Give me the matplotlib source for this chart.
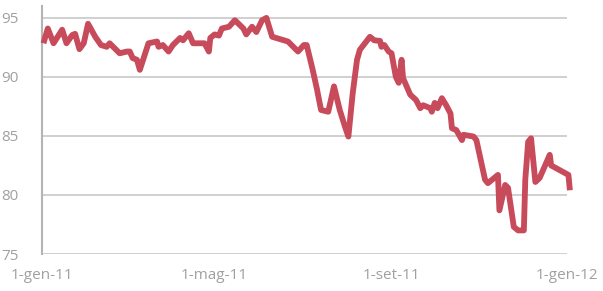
import matplotlib
matplotlib.use("Agg")
import matplotlib.pyplot as plt
import pandas as pd

# ---------------------------
# data (daily index, 2011)
# ---------------------------
dates = [
    "2011-01-02", "2011-01-05", "2011-01-09", "2011-01-15", "2011-01-18", "2011-01-22",
    "2011-01-24", "2011-01-27", "2011-01-30", "2011-02-02", "2011-02-07", "2011-02-11",
    "2011-02-15", "2011-02-17", "2011-02-24", "2011-03-01", "2011-03-03", "2011-03-05",
    "2011-03-08", "2011-03-10", "2011-03-16", "2011-03-22", "2011-03-23", "2011-03-26",
    "2011-03-30", "2011-04-02", "2011-04-07", "2011-04-09", "2011-04-13", "2011-04-16",
    "2011-04-24", "2011-04-27", "2011-04-28", "2011-05-01", "2011-05-04", "2011-05-06",
    "2011-05-11", "2011-05-15", "2011-05-16", "2011-05-21", "2011-05-23", "2011-05-27",
    "2011-05-30", "2011-06-03", "2011-06-06", "2011-06-10", "2011-06-21", "2011-06-28",
    "2011-07-02", "2011-07-04", "2011-07-08", "2011-07-11", "2011-07-14", "2011-07-19",
    "2011-07-23", "2011-07-27", "2011-07-31", "2011-08-02", "2011-08-05", "2011-08-08",
    "2011-08-10", "2011-08-17", "2011-08-20", "2011-08-24", "2011-08-25", "2011-08-27",
    "2011-08-30", "2011-09-01", "2011-09-04", "2011-09-06", "2011-09-08", "2011-09-09",
    "2011-09-14", "2011-09-18", "2011-09-21", "2011-09-23", "2011-09-28", "2011-09-29",
    "2011-10-01", "2011-10-03", "2011-10-06", "2011-10-09", "2011-10-12", "2011-10-13",
    "2011-10-16", "2011-10-20", "2011-10-21", "2011-10-28", "2011-10-30", "2011-11-05",
    "2011-11-07", "2011-11-14", "2011-11-15", "2011-11-19", "2011-11-21", "2011-11-25",
    "2011-11-28", "2011-12-02", "2011-12-03", "2011-12-05", "2011-12-07", "2011-12-10",
    "2011-12-13", "2011-12-20", "2011-12-21", "2012-01-02", "2012-01-03",
]
values = [
    92.85, 94.1, 92.85, 94.0, 92.85, 93.55,
    93.65, 92.35, 92.85, 94.5, 93.4, 92.7,
    92.55, 92.85, 92.0, 92.15, 92.15, 91.6,
    91.45, 90.6, 92.85, 93.0, 92.55, 92.7,
    92.15, 92.7, 93.3, 93.1, 93.7, 92.85,
    92.85, 92.15, 93.3, 93.6, 93.5, 94.1,
    94.25, 94.8, 94.7, 94.1, 93.6, 94.25,
    93.8, 94.8, 95.0, 93.4, 93.0, 92.15,
    92.7, 92.7, 90.7, 89.05, 87.2, 87.05,
    89.2, 87.2, 85.65, 84.95, 88.6, 91.45,
    92.3, 93.4, 93.1, 93.05, 92.55, 92.7,
    92.15, 92.0, 90.0, 89.5, 91.45, 89.9,
    88.5, 88.05, 87.35, 87.6, 87.35, 87.05,
    87.8, 87.35, 88.2, 87.6, 86.9, 85.65,
    85.5, 84.65, 85.1, 84.95, 84.65, 81.3,
    81.0, 81.7, 78.7, 80.85, 80.6, 77.3,
    77.0, 77.0, 81.3, 84.5, 84.8, 81.1,
    81.45, 83.4, 82.5, 81.7, 80.4,
]
tick_dates = ["2011-01-01", "2011-05-01", "2011-09-01", "2012-01-01"]
tick_labels = ["1-gen-11", "1-mag-11", "1-set-11", "1-gen-12"]
y_ticks = [75, 80, 85, 90, 95]

x = pd.to_datetime(dates)
xt = pd.to_datetime(tick_dates)

# ---------------------------
# plot
# ---------------------------
plt.rcParams["font.family"] = ["Open Sans", "DejaVu Sans"]
grey_txt = "#a0a0a0"
grey_line = "#c8c8c8"

fig = plt.figure(figsize=(6.03, 2.91), dpi=100)
ax = fig.add_axes([0.0697, 0.1271, 0.8706, 0.852])

ax.plot(x, values, color="#c84b5c", linewidth=4.2, solid_joinstyle="round",
        solid_capstyle="butt", clip_on=False, zorder=3)

ax.set_xlim(xt[0], xt[-1])
ax.set_ylim(75, 96)
ax.set_yticks(y_ticks)
ax.set_xticks(xt)
ax.set_xticklabels(tick_labels)

ax.yaxis.grid(True, color=grey_line, linewidth=1.2)
ax.set_axisbelow(True)
for side in ["top", "right", "bottom"]:
    ax.spines[side].set_visible(False)
ax.spines["left"].set_color("#b4b4b4")
ax.spines["left"].set_linewidth(1.5)

ax.tick_params(axis="both", length=0, labelsize=11, labelcolor=grey_txt)
ax.tick_params(axis="y", pad=17)
ax.tick_params(axis="x", pad=10)

fig.savefig("out.png", dpi=100)
